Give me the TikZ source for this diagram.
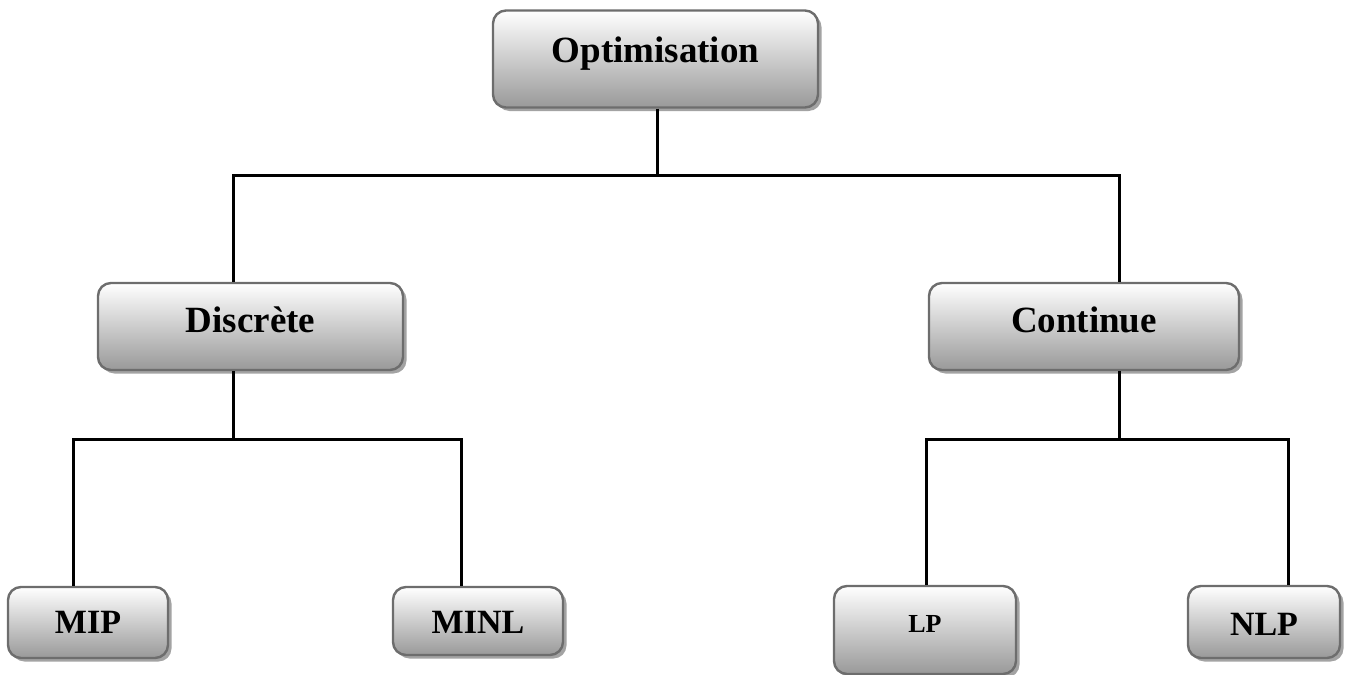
\documentclass[tikz,border=0pt]{standalone}
\usepackage{fontspec}
\setmainfont{Liberation Serif}
\usetikzlibrary{shadows}
\definecolor{boxborder}{HTML}{6D6D6D}
\tikzset{
  x=1pt, y=-1pt,
  box/.style={rectangle, rounded corners=13pt, draw=boxborder, line width=2.4pt,
    top color=white, bottom color=black!40, inner sep=0pt,
    drop shadow={shadow xshift=3.5pt, shadow yshift=-3.5pt, fill=black!45, opacity=0.8}},
  lbl/.style={anchor=base, inner sep=0pt, font=\bfseries\fontsize{37}{40}\selectfont},
  lblsm/.style={lbl, font=\bfseries\fontsize{34}{38}\selectfont},
  lbllp/.style={lbl, font=\bfseries\fontsize{26}{30}\selectfont},
  conn/.style={line width=3pt, black}
}
\begin{document}
\begin{tikzpicture}
\useasboundingbox (0,0) rectangle (1369,675);
% boxes
\node[box, minimum width=325pt, minimum height=97pt] (opt) at (655.5,59) {};
\node[box, minimum width=305pt, minimum height=87pt] (disc) at (250.5,326.5) {};
\node[box, minimum width=310pt, minimum height=87pt] (cont) at (1084,326.5) {};
\node[box, minimum width=160pt, minimum height=71pt] (mip) at (88,622.5) {};
\node[box, minimum width=170pt, minimum height=68pt] (minl) at (478,621) {};
\node[box, minimum width=182pt, minimum height=88pt] (lp) at (925,630) {};
\node[box, minimum width=152pt, minimum height=72pt] (nlp) at (1264,622) {};
% labels
\node[lbl] (optt) at (655.5,62) {Optimisation};
\node[lbl] (disct) at (250.5,332) {Discrète};
\node[lbl] (contt) at (1084,332) {Continue};
\node[lblsm] (mipt) at (88,633) {MIP};
\node[lblsm] (minlt) at (478,633) {MINL};
\node[lbllp] (lpt) at (925,632) {LP};
\node[lblsm] (nlpt) at (1264,635) {NLP};
% junction coordinates
\coordinate (j0) at (657,175);
\coordinate (jd) at (233,175);
\coordinate (jc) at (1119,175);
\coordinate (kd) at (233,439);
\coordinate (kmip) at (73.5,439);
\coordinate (kminl) at (461,439);
\coordinate (kc) at (1119,439);
\coordinate (klp) at (926,439);
\coordinate (knlp) at (1288,439);
% connectors
\draw[conn] (opt.south -| j0) -- (j0);
\draw[conn] (disc.north -| jd) -- (jd) -- (jc) -- (cont.north -| jc);
\draw[conn] (disc.south -| kd) -- (kd);
\draw[conn] (mip.north -| kmip) -- (kmip) -- (kminl) -- (minl.north -| kminl);
\draw[conn] (cont.south -| kc) -- (kc);
\draw[conn] (lp.north -| klp) -- (klp) -- (knlp) -- (nlp.north -| knlp);
\end{tikzpicture}
\end{document}
